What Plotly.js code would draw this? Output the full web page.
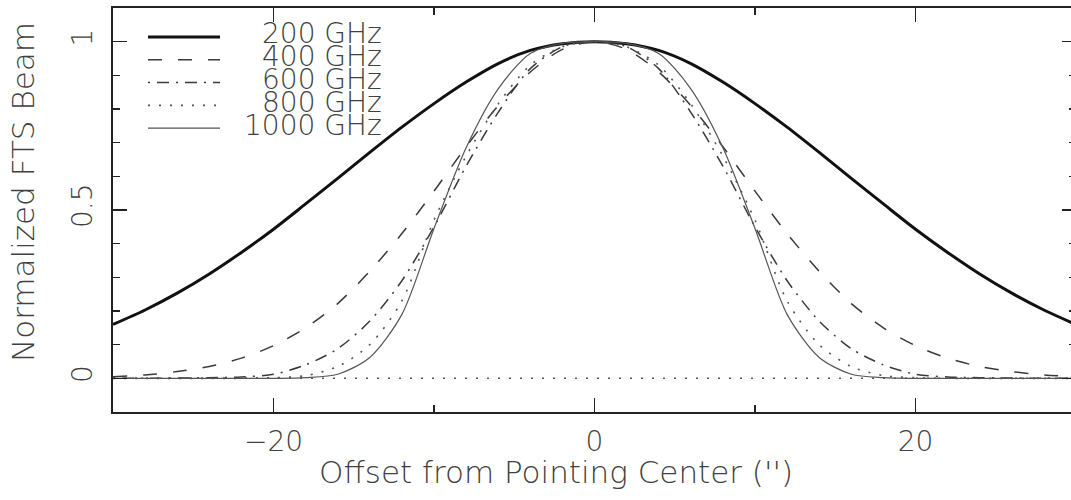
<!DOCTYPE html>
<html>
<head>
<meta charset="utf-8">
<script src="https://cdn.plot.ly/plotly-3.0.1.min.js"></script>
<style>
  html, body { margin: 0; padding: 0; overflow: hidden; background: #fff; }
  #chart { width: 1076px; height: 500px; }
</style>
</head>
<body>
<div id="chart"></div>
<script>
// Beam offsets in arcseconds
const offsets = [-30,-28,-26,-24,-22,-20,-18,-16,-14,-12,-10,-8,-6,-4,-2,0,
                 2,4,6,8,10,12,14,16,18,20,22,24,26,28,30];

// Normalized beam response per frequency
const beam200 = [0.160,0.203,0.253,0.310,0.374,0.443,0.518,0.594,0.671,0.746,0.816,0.880,0.935,0.974,0.994,1.000,
                 0.994,0.974,0.935,0.880,0.816,0.746,0.671,0.594,0.518,0.443,0.374,0.310,0.253,0.203,0.160];
const beam400 = [0.005,0.010,0.020,0.035,0.060,0.097,0.150,0.222,0.318,0.430,0.556,0.688,0.810,0.910,0.977,1.000,
                 0.977,0.910,0.810,0.688,0.556,0.430,0.318,0.222,0.150,0.097,0.060,0.035,0.020,0.010,0.005];
const beam600 = [0.000,0.000,0.001,0.002,0.004,0.012,0.040,0.088,0.170,0.290,0.450,0.630,0.790,0.920,0.985,1.000,
                 0.985,0.920,0.790,0.630,0.450,0.290,0.170,0.088,0.040,0.012,0.004,0.002,0.001,0.000,0.000];
const beam800 = [0.000,0.000,0.000,0.000,0.000,0.002,0.008,0.035,0.100,0.230,0.470,0.660,0.815,0.930,0.985,1.000,
                 0.985,0.930,0.815,0.660,0.470,0.230,0.100,0.035,0.008,0.002,0.000,0.000,0.000,0.000,0.000];
const beam1000 = [0.000,0.000,0.000,0.000,0.000,0.000,0.002,0.012,0.062,0.190,0.445,0.685,0.860,0.965,0.995,1.000,
                  0.995,0.965,0.860,0.685,0.445,0.190,0.062,0.012,0.002,0.000,0.000,0.000,0.000,0.000,0.000];

const seriesNames = ['200 GHz', '400 GHz', '600 GHz', '800 GHz', '1000 GHz'];
const xTickVals = [-20, 0, 20];
const xMinorVals = [-10, 10];
const yTickVals = [0, 0.5, 1];
const yTickText = ['0', '0.5', '1'];
const yMinorVals = [0.1, 0.2, 0.3, 0.4, 0.6, 0.7, 0.8, 0.9];
const xTitle = "Offset from Pointing Center ('')";
const yTitle = 'Normalized FTS Beam';
const zeroLevel = 0;
const xRange = [-30, 30];
const yRange = [-0.1, 1.1];

const styles = [
  { color: '#111111', width: 3.0, dash: 'solid' },
  { color: '#3a3a3a', width: 1.5, dash: '14px,16px' },
  { color: '#3a3a3a', width: 1.5, dash: '2px,7px,12px,7px' },
  { color: '#555555', width: 1.6, dash: '2px,9px' },
  { color: '#555555', width: 1.2, dash: 'solid' }
];
const allBeams = [beam200, beam400, beam600, beam800, beam1000];

const traces = allBeams.map((vals, i) => ({
  type: 'scatter',
  mode: 'lines',
  name: seriesNames[i],
  x: offsets,
  y: vals,
  line: { color: styles[i].color, width: styles[i].width, dash: styles[i].dash, shape: 'spline', smoothing: 0.8 },
  showlegend: false,
  hoverinfo: 'skip'
}));

// transparent copies that carry the short-tick scales
traces.push({ type: 'scatter', mode: 'lines', x: offsets, y: beam200, xaxis: 'x2', yaxis: 'y',
              line: { width: 0 }, opacity: 0, showlegend: false, hoverinfo: 'skip' });
traces.push({ type: 'scatter', mode: 'lines', x: offsets, y: beam200, xaxis: 'x', yaxis: 'y2',
              line: { width: 0 }, opacity: 0, showlegend: false, hoverinfo: 'skip' });

const textFont = { family: 'DejaVu Sans, Liberation Sans, sans-serif', color: '#404040', weight: 200 };

// Hand-placed key in the upper-left corner
const keyX0 = 35, keyX1 = 107;       // pixels from the left edge of the plot area
const keyTop = 29, keyStep = 22.8;   // pixels from the top of the plot area
const plotW = 963, plotH = 404;

const shapes = [{
  type: 'line', xref: 'paper', yref: 'y',
  x0: 0, x1: 1, y0: zeroLevel, y1: zeroLevel,
  line: { color: '#555555', width: 1.5, dash: '2px,9px' }, layer: 'below'
}];
const annotations = [];
seriesNames.forEach((name, i) => {
  const yy = 1 - (keyTop + i * keyStep) / plotH;
  shapes.push({
    type: 'line', xref: 'paper', yref: 'paper',
    x0: keyX0 / plotW, x1: keyX1 / plotW, y0: yy, y1: yy,
    line: { color: styles[i].color, width: styles[i].width, dash: styles[i].dash }
  });
  annotations.push({
    xref: 'paper', yref: 'paper', x: 271 / plotW, y: yy + 3 / plotH,
    xanchor: 'right', yanchor: 'middle', showarrow: false,
    text: name, font: Object.assign({ size: 28 }, textFont)
  });
});

annotations.push({
  xref: 'paper', yref: 'paper', x: (556 - 113) / plotW, y: -(472 - 412) / plotH,
  xanchor: 'center', yanchor: 'middle', showarrow: false,
  text: xTitle, font: Object.assign({ size: 31 }, textFont)
});
annotations.push({
  xref: 'paper', yref: 'paper', x: -(113 - 23) / plotW, y: 1 - (192 - 8) / plotH,
  xanchor: 'center', yanchor: 'middle', showarrow: false, textangle: -90,
  text: yTitle, font: Object.assign({ size: 31 }, textFont)
});

const frameColor = '#222222';
const longTicks = { ticks: 'inside', ticklen: 14, tickwidth: 1.6, tickcolor: frameColor };
const shortTicks = { ticks: 'inside', ticklen: 7, tickwidth: 1.4, tickcolor: frameColor };

const layout = {
  width: 1076, height: 500,
  margin: { l: 113, r: 0, t: 8, b: 88 },
  paper_bgcolor: '#ffffff', plot_bgcolor: '#ffffff',
  showlegend: false,
  xaxis: Object.assign({
    range: xRange, showgrid: false, zeroline: false,
    showline: true, linecolor: frameColor, linewidth: 2, mirror: 'ticks',
    tickmode: 'array', tickvals: xTickVals, ticklabelstandoff: 3,
    tickfont: Object.assign({ size: 28 }, textFont)
  }, longTicks),
  // intermediate x ticks, bottom and top
  xaxis2: Object.assign({
    overlaying: 'x', side: 'bottom', anchor: 'y',
    range: xRange, showgrid: false, zeroline: false,
    showline: false, mirror: 'ticks',
    tickmode: 'array', tickvals: xMinorVals, showticklabels: false
  }, shortTicks),
  yaxis: Object.assign({
    range: yRange, showgrid: false, zeroline: false,
    showline: true, linecolor: frameColor, linewidth: 2, mirror: 'ticks',
    tickmode: 'array', tickvals: yTickVals, ticktext: yTickText, tickangle: -90, ticklabelstandoff: 8,
    tickfont: Object.assign({ size: 28 }, textFont)
  }, longTicks),
  // intermediate y ticks, left and right
  yaxis2: Object.assign({
    overlaying: 'y', side: 'left', anchor: 'x',
    range: yRange, showgrid: false, zeroline: false,
    showline: false, mirror: 'ticks',
    tickmode: 'array', tickvals: yMinorVals, showticklabels: false
  }, shortTicks),
  shapes: shapes,
  annotations: annotations
};

Plotly.newPlot('chart', traces, layout, { displayModeBar: false, staticPlot: true });
</script>
</body>
</html>
